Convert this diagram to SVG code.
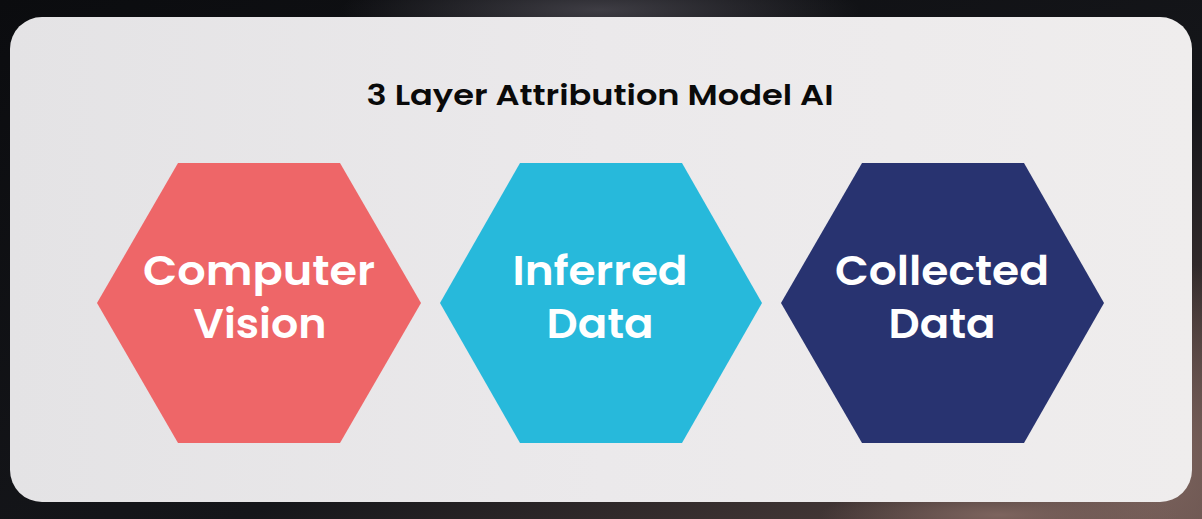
<svg xmlns="http://www.w3.org/2000/svg" width="1202" height="519" viewBox="0 0 1202 519">
  <defs>
    <linearGradient id="bg" x1="0" y1="0" x2="1" y2="1">
      <stop offset="0" stop-color="#0b0c0f"/>
      <stop offset="0.6" stop-color="#15161a"/>
      <stop offset="1" stop-color="#5e4a46"/>
    </linearGradient>
    <radialGradient id="glowTop" cx="0.5" cy="0.5" r="0.5">
      <stop offset="0" stop-color="#4a4850" stop-opacity="0.8"/>
      <stop offset="1" stop-color="#4a4850" stop-opacity="0"/>
    </radialGradient>
    <radialGradient id="glowBR" cx="0.5" cy="0.5" r="0.5">
      <stop offset="0" stop-color="#7d645e" stop-opacity="1"/>
      <stop offset="1" stop-color="#7d645e" stop-opacity="0"/>
    </radialGradient>
    <linearGradient id="panel" x1="0" y1="0" x2="1" y2="0">
      <stop offset="0" stop-color="#e4e3e5"/>
      <stop offset="0.5" stop-color="#ebe9eb"/>
      <stop offset="1" stop-color="#efeded"/>
    </linearGradient>
    <style>
      .title { font-family: "Poppins", "Inter", "Liberation Sans", sans-serif; font-weight: 600; font-size: 29px; fill: #0a0a0a; }
      .label { font-family: "Poppins", "Inter", "Liberation Sans", sans-serif; font-weight: 600; font-size: 40px; fill: #ffffff; text-anchor: middle; }
    </style>
  </defs>

  <rect x="0" y="0" width="1202" height="519" fill="url(#bg)"/>
  <ellipse cx="600" cy="10" rx="260" ry="40" fill="url(#glowTop)"/>
  <ellipse cx="1160" cy="460" rx="160" ry="200" fill="url(#glowBR)"/>
  <ellipse cx="1000" cy="515" rx="180" ry="30" fill="url(#glowBR)"/>

  <rect x="10" y="17" width="1182" height="485" rx="32" ry="32" fill="url(#panel)"/>

  <text class="title" x="600" y="105" text-anchor="middle" textLength="467" lengthAdjust="spacingAndGlyphs">3 Layer Attribution Model AI</text>

  <g id="node-computer-vision">
    <polygon points="178,163 340,163 421,303 340,443 178,443 97,303" fill="#ee6668"/>
    <text class="label" x="259" y="285" textLength="232" lengthAdjust="spacingAndGlyphs">Computer</text>
    <text class="label" x="260" y="338" textLength="133" lengthAdjust="spacingAndGlyphs">Vision</text>
  </g>

  <g id="node-inferred-data">
    <polygon points="520,163 682,163 762,303 682,443 520,443 440,303" fill="#27b9db"/>
    <text class="label" x="600" y="285" textLength="175" lengthAdjust="spacingAndGlyphs">Inferred</text>
    <text class="label" x="600" y="338" textLength="107" lengthAdjust="spacingAndGlyphs">Data</text>
  </g>

  <g id="node-collected-data">
    <polygon points="862,163 1024,163 1104,303 1024,443 862,443 781,303" fill="#283370"/>
    <text class="label" x="942" y="285" textLength="214" lengthAdjust="spacingAndGlyphs">Collected</text>
    <text class="label" x="942" y="338" textLength="107" lengthAdjust="spacingAndGlyphs">Data</text>
  </g>

  <g id="connectors"></g>
</svg>
